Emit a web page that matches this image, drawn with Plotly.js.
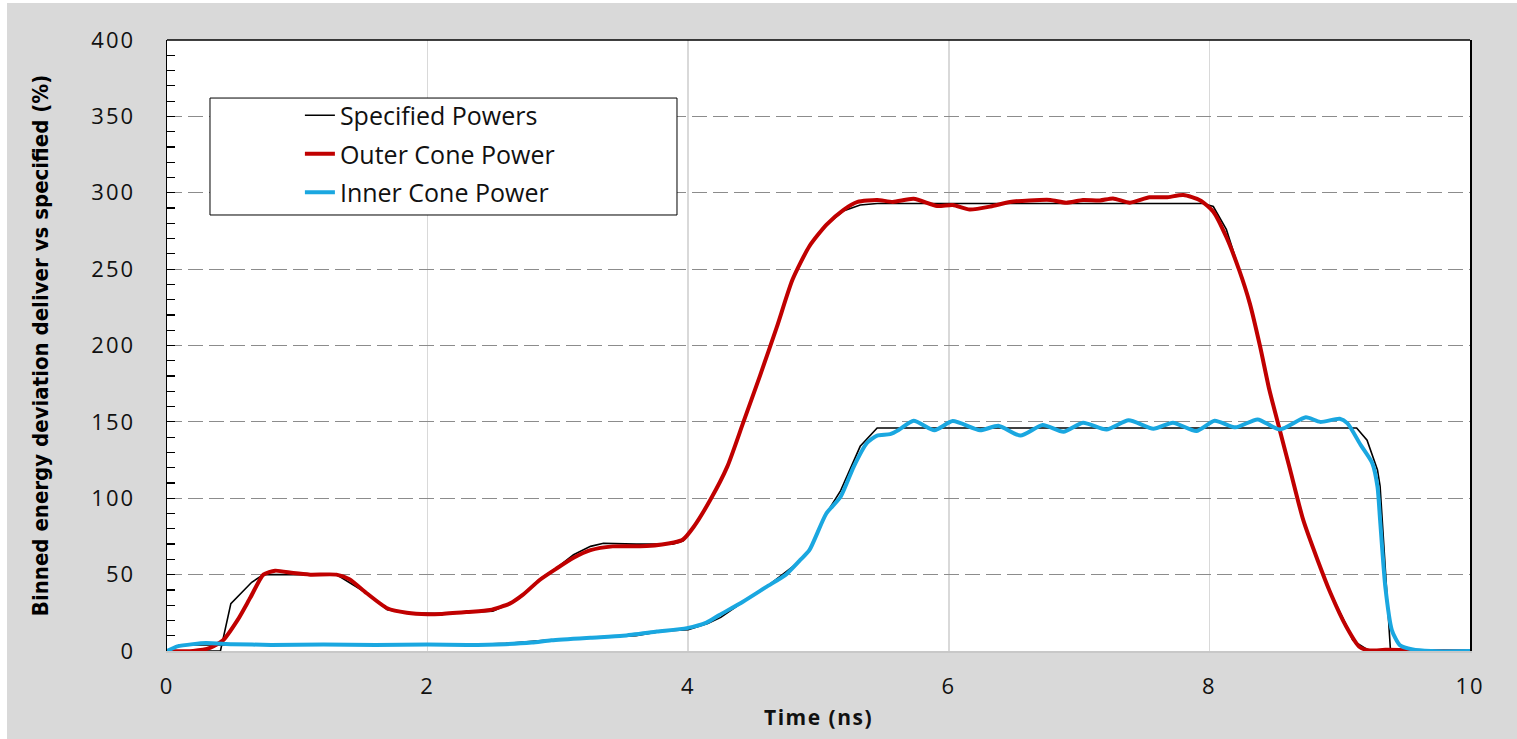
<!DOCTYPE html>
<html>
<head>
<meta charset="utf-8">
<script src="https://cdn.plot.ly/plotly-3.0.1.min.js"></script>
<style>
  html, body { margin: 0; padding: 0; background: #ffffff; width: 1517px; height: 739px; overflow: hidden; }
  #chart { position: absolute; left: 7px; top: 3px; width: 1510px; height: 736px; }
  #chart .xtick text, #chart .ytick text { letter-spacing: 2px; }
  #chart .g-xtitle text { letter-spacing: 1.5px; }
</style>
</head>
<body>
<div id="chart"></div>
<script>
// Specified power (outer cone)
const specOuterT = [0, 0.41, 0.49, 0.65, 0.74, 1.30, 1.53, 1.69, 1.84, 2.10, 2.50, 2.63, 2.73, 2.86, 3.00, 3.12, 3.25, 3.35, 3.60, 3.88, 3.96, 4.04, 4.17, 4.30, 4.42, 4.55, 4.68, 4.80, 4.93, 5.06, 5.19, 5.32, 5.45, 7.95, 8.03, 8.13, 8.23, 8.31, 8.39, 8.46, 8.54, 8.62, 8.72, 8.83, 8.93, 9.05, 9.10, 9.21, 9.30, 10];
const specOuterV = [0, 0, 31, 45, 50, 50, 38, 27, 25, 24.5, 26, 31, 37, 47, 55, 63, 68.5, 70.5, 70, 70, 72, 81, 99, 121, 149, 180, 212, 243, 265, 279, 288, 292, 293, 293, 291, 276, 250, 228, 199, 171, 145, 118.5, 86, 60, 38, 17, 7, 1, 0, 0];

// Specified power (inner cone)
const specInnerT = [0, 0.10, 0.50, 1.00, 1.50, 2.00, 2.30, 2.60, 2.90, 3.30, 3.60, 3.80, 4.00, 4.15, 4.25, 4.42, 4.60, 4.86, 4.93, 5.06, 5.17, 5.32, 5.45, 9.13, 9.21, 9.29, 9.31, 9.39, 10];
const specInnerV = [0, 4, 4, 4, 4, 4, 4, 5, 7, 9, 10, 13, 14, 18, 22, 32, 42, 59, 66, 90, 105, 134, 146, 146, 138, 118.5, 108, 0, 0];

// Outer cone delivered power
const outerT = [0, 0.20, 0.33, 0.43, 0.54, 0.64, 0.74, 0.83, 0.97, 1.10, 1.30, 1.40, 1.53, 1.69, 1.84, 2.00, 2.10, 2.30, 2.48, 2.63, 2.73, 2.86, 2.99, 3.12, 3.25, 3.42, 3.68, 3.89, 3.96, 4.04, 4.17, 4.30, 4.42, 4.55, 4.68, 4.80, 4.93, 5.06, 5.19, 5.30, 5.45, 5.57, 5.73, 5.91, 6.03, 6.16, 6.32, 6.47, 6.62, 6.78, 6.90, 7.03, 7.16, 7.26, 7.39, 7.54, 7.67, 7.80, 7.93, 8.03, 8.13, 8.23, 8.31, 8.39, 8.46, 8.54, 8.62, 8.72, 8.83, 8.93, 9.05, 9.15, 9.23, 9.35, 9.50, 9.60, 10];
const outerV = [0, 0, 2, 7, 20, 35, 50, 52.6, 51, 50, 50, 47, 38, 28, 25, 24, 24.2, 25.5, 26.8, 31, 36.7, 46.5, 54, 61, 66, 68.5, 68.7, 71, 73, 81, 99, 120.7, 149, 180, 212, 243, 265, 279, 288.7, 294, 295.3, 294, 296, 291.3, 292, 289, 291, 294, 295, 295.3, 293.5, 295.3, 295, 296.3, 293.5, 297, 297, 298.5, 295, 287.6, 271, 249, 227.6, 199, 171, 144.7, 118.5, 85.8, 59.6, 37.8, 16, 2.8, 0.3, 0.8, 0.5, 0, 0];

// Inner cone delivered power
const innerT = [0, 0.08, 0.20, 0.30, 0.50, 0.80, 1.20, 1.60, 2.00, 2.30, 2.60, 2.80, 2.95, 3.25, 3.50, 3.76, 3.99, 4.14, 4.24, 4.42, 4.60, 4.75, 4.86, 4.93, 5.06, 5.17, 5.27, 5.37, 5.45, 5.55, 5.62, 5.73, 5.89, 6.03, 6.24, 6.38, 6.55, 6.72, 6.88, 7.03, 7.21, 7.38, 7.57, 7.72, 7.90, 8.04, 8.20, 8.37, 8.54, 8.74, 8.85, 9.00, 9.06, 9.16, 9.25, 9.29, 9.31, 9.35, 9.40, 9.46, 9.56, 9.70, 10];
const innerV = [0, 3, 4.5, 5.2, 4.5, 4, 4.3, 4, 4.2, 4, 4.5, 5.5, 7, 8.7, 10, 12.7, 15, 18.6, 23.6, 32.3, 42, 50, 59.6, 66, 90, 101, 120.6, 136, 141, 142, 145, 150.8, 144.5, 150.5, 144.5, 147.5, 141, 148, 143.5, 149.5, 145, 151, 145.5, 149.5, 144, 150.8, 146.4, 151.6, 145, 153, 150, 152, 149, 135, 123, 107.6, 85.8, 42, 13.7, 4, 1, 0, 0];

const seriesNames = ['Specified Powers', 'Outer Cone Power', 'Inner Cone Power'];
const xTicks = [0, 2, 4, 6, 8, 10];
const yTicks = [0, 50, 100, 150, 200, 250, 300, 350, 400];

const baseFont = 'Open Sans, Noto Sans, DejaVu Sans, sans-serif';

const specOuter = {x: specOuterT, y: specOuterV, name: seriesNames[0], mode: 'lines', legendgroup: 'a',
   line: {color: '#000000', width: 1.6}};
const specInner = {x: specInnerT, y: specInnerV, name: seriesNames[0], mode: 'lines', showlegend: false, legendgroup: 'a',
   line: {color: '#000000', width: 1.6}};
const outer = {x: outerT, y: outerV, name: seriesNames[1], mode: 'lines', legendgroup: 'b',
   line: {color: '#c00000', width: 4, shape: 'spline', smoothing: 0.6}};
const inner = {x: innerT, y: innerV, name: seriesNames[2], mode: 'lines', legendgroup: 'c',
   line: {color: '#1aa7e0', width: 4, shape: 'spline', smoothing: 0.6}};

const layout = {
  width: 1510, height: 736,
  paper_bgcolor: '#d9d9d9',
  plot_bgcolor: '#ffffff',
  margin: {l: 160, r: 47, t: 37, b: 88},
  font: {family: baseFont, color: '#111111', size: 22},
  showlegend: true,
  legend: {
    x: 0.102, y: 0.914, xanchor: 'left', yanchor: 'top',
    bgcolor: 'rgba(0,0,0,0)', borderwidth: 0,
    tracegroupgap: 3,
    font: {family: baseFont, size: 25, color: '#111111'}
  },
  xaxis: {
    range: [0, 10],
    tickvals: xTicks,
    ticktext: xTicks.map(String),
    ticks: '',
    ticklabelstandoff: 15,
    showgrid: true, gridcolor: '#d9d9d9', gridwidth: 1.5,
    zeroline: false,
    showline: true, linecolor: '#c8c8c8', linewidth: 1.5,
    tickfont: {size: 22, family: baseFont},
    title: {text: '<b>Time (ns)</b>', font: {size: 21, family: baseFont}, standoff: 11}
  },
  yaxis: {
    range: [0, 400],
    tickvals: yTicks,
    ticktext: yTicks.map(String),
    ticks: 'inside', ticklen: 8, tickcolor: '#000000', tickwidth: 1.2,
    minor: {dtick: 10, ticks: 'inside', ticklen: 8, tickcolor: '#000000', tickwidth: 1.2, showgrid: false},
    ticklabelstandoff: 26,
    showgrid: true, gridcolor: '#8c8c8c', gridwidth: 1.2, griddash: '15px,6px',
    zeroline: false,
    showline: true, linecolor: '#000000', linewidth: 1.5, mirror: true,
    tickfont: {size: 22, family: baseFont},
    title: {text: '<b>Binned energy deviation deliver vs specified (%)</b>',
            font: {size: 22, family: 'Liberation Sans Narrow, DejaVu Sans Condensed, Roboto Condensed, sans-serif', color: '#000000'},
            standoff: 42}
  },
  shapes: [
    {type: 'line', xref: 'paper', yref: 'paper', x0: 0, x1: 1, y0: 1, y1: 1,
     line: {color: '#000000', width: 1.5}, layer: 'above'},
    {type: 'rect', xref: 'paper', yref: 'paper', x0: 0.033, x1: 0.3914, y0: 0.7136, y1: 0.905,
     fillcolor: '#ffffff', line: {color: '#000000', width: 1}, layer: 'above'}
  ]
};

Plotly.newPlot('chart', [specOuter, specInner, outer, inner], layout, {displayModeBar: false, staticPlot: true});
</script>
</body>
</html>
